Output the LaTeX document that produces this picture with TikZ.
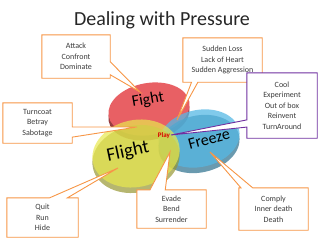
\documentclass[tikz,border=0pt]{standalone}
\usepackage{fontspec}
\setmainfont{Carlito}
\usepackage{tikz}
\usetikzlibrary{calc}

\definecolor{calloutorange}{RGB}{247,150,70}
\definecolor{calloutpurple}{RGB}{112,48,160}
\definecolor{fightred}{RGB}{232,96,100}
\definecolor{flightyellow}{RGB}{232,232,78}
\definecolor{freezeblue}{RGB}{86,184,228}
\definecolor{boxtext}{RGB}{60,60,60}

\pgfdeclarelayer{discs}
\pgfdeclarelayer{callouts}
\pgfsetlayers{discs,callouts,main}

\begin{document}
\begin{tikzpicture}[x=1pt,y=1pt,
    box/.style={inner sep=0pt, align=center, text=boxtext,
                font=\fontsize{8}{10.5}\selectfont},
    callout/.style={draw=calloutorange, fill=white, line width=0.9pt, line join=miter},
    disclabel/.style={inner sep=0pt, text=black}]

            \useasboundingbox (0,0) rectangle (320,239);

            \node[font=\fontsize{20}{20}\selectfont, text=black!85] (title) at (162,219) {Dealing with Pressure};

            % the three discs
            \begin{pgfonlayer}{discs}
            \fill[fightred!65!black, rotate around={10:(149,125)}] (149,125) ellipse [x radius=41, y radius=26];
            \fill[fightred, rotate around={10:(149,130)}] (149,130) ellipse [x radius=41, y radius=26];

            \fill[freezeblue!65!black, opacity=0.75, rotate around={12:(199,95)}] (199,95) ellipse [x radius=41, y radius=28.5];
            \fill[freezeblue, opacity=0.75, rotate around={12:(199,100.5)}] (199,100.5) ellipse [x radius=41, y radius=28.5];

            \fill[flightyellow!65!black, opacity=0.7, rotate around={12:(136,80)}] (136,80) ellipse [x radius=44, y radius=33.5];
            \fill[flightyellow, opacity=0.7, rotate around={12:(136,85.5)}] (136,85.5) ellipse [x radius=44, y radius=33.5];
            \end{pgfonlayer}

            \node[disclabel, rotate=10, font=\fontsize{16}{16}\selectfont] (fight) at (148,139) {Fight};
            \node[disclabel, rotate=12, font=\fontsize{19}{19}\selectfont] (flight) at (128,87) {Flight};
            \node[disclabel, rotate=15, font=\fontsize{16}{16}\selectfont] (freeze) at (209,100) {Freeze};
            \node[inner sep=0pt, text=red!85!black, font=\bfseries\fontsize{7}{7}\selectfont] (play) at (164,103) {Play};

            % callout texts
            \node[box, minimum width=68, minimum height=43] (attack) at (76,182.5) {Attack\\Confront\\Dominate};
            \node[box, minimum width=79, minimum height=44] (loss) at (222.5,179) {Sudden Loss\\Lack of Heart\\Sudden Aggression};
            \node[box, minimum width=70, minimum height=65] (cool) at (282,133.5) {Cool\\Experiment\\Out of box\\Reinvent\\TurnAround};
            \node[box, minimum width=69, minimum height=40] (turncoat) at (37.5,116) {Turncoat\\Betray\\Sabotage};
            \node[box, minimum width=71, minimum height=39] (quit) at (42.5,21.5) {Quit\\Run\\Hide};
            \node[box, minimum width=69, minimum height=38] (evade) at (171.5,30) {Evade\\Bend\\Surrender};
            \node[box, minimum width=69, minimum height=42] (comply) at (273.5,30) {Comply\\Inner death\\Death};

            \coordinate (attacktip) at (140,147);
            \coordinate (losstip) at (177,119);
            \coordinate (cooltip) at (171,104);
            \coordinate (turncoattip) at (137,112);
            \coordinate (quittip) at (118,71);
            \coordinate (evadetip) at (170,87);
            \coordinate (complytip) at (210,87);

            % callout frames
            \begin{pgfonlayer}{callouts}
            \draw[callout] (attack.north west) -- (attack.north east) -- ($(attack.north east)!0.62!(attack.south east)$) -- (attacktip) -- ($(attack.north east)!0.92!(attack.south east)$) -- (attack.south east) -- (attack.south west) -- cycle;
            \draw[callout] (loss.north west) -- (loss.north east) -- (loss.south east) -- ($(loss.south west)!0.19!(loss.south east)$) -- (losstip) -- ($(loss.south west)!0.11!(loss.south east)$) -- (loss.south west) -- cycle;
            \draw[callout, draw=calloutpurple] (cool.north west) -- (cool.north east) -- (cool.south east) -- (cool.south west) -- ($(cool.north west)!0.83!(cool.south west)$) -- (cooltip) -- ($(cool.north west)!0.72!(cool.south west)$) -- cycle;
            \draw[callout] (turncoat.north west) -- (turncoat.north east) -- ($(turncoat.north east)!0.6!(turncoat.south east)$) -- (turncoattip) -- ($(turncoat.north east)!0.85!(turncoat.south east)$) -- (turncoat.south east) -- (turncoat.south west) -- cycle;
            \draw[callout] (quit.north west) -- ($(quit.north west)!0.6!(quit.north east)$) -- (quittip) -- ($(quit.north west)!0.85!(quit.north east)$) -- (quit.north east) -- (quit.south east) -- (quit.south west) -- cycle;
            \draw[callout] (evade.north west) -- ($(evade.north west)!0.19!(evade.north east)$) -- (evadetip) -- ($(evade.north west)!0.41!(evade.north east)$) -- (evade.north east) -- (evade.south east) -- (evade.south west) -- cycle;
            \draw[callout] (comply.north west) -- ($(comply.north west)!0.03!(comply.north east)$) -- (complytip) -- ($(comply.north west)!0.2!(comply.north east)$) -- (comply.north east) -- (comply.south east) -- (comply.south west) -- cycle;
            \end{pgfonlayer}
         \end{tikzpicture}
\end{document}
